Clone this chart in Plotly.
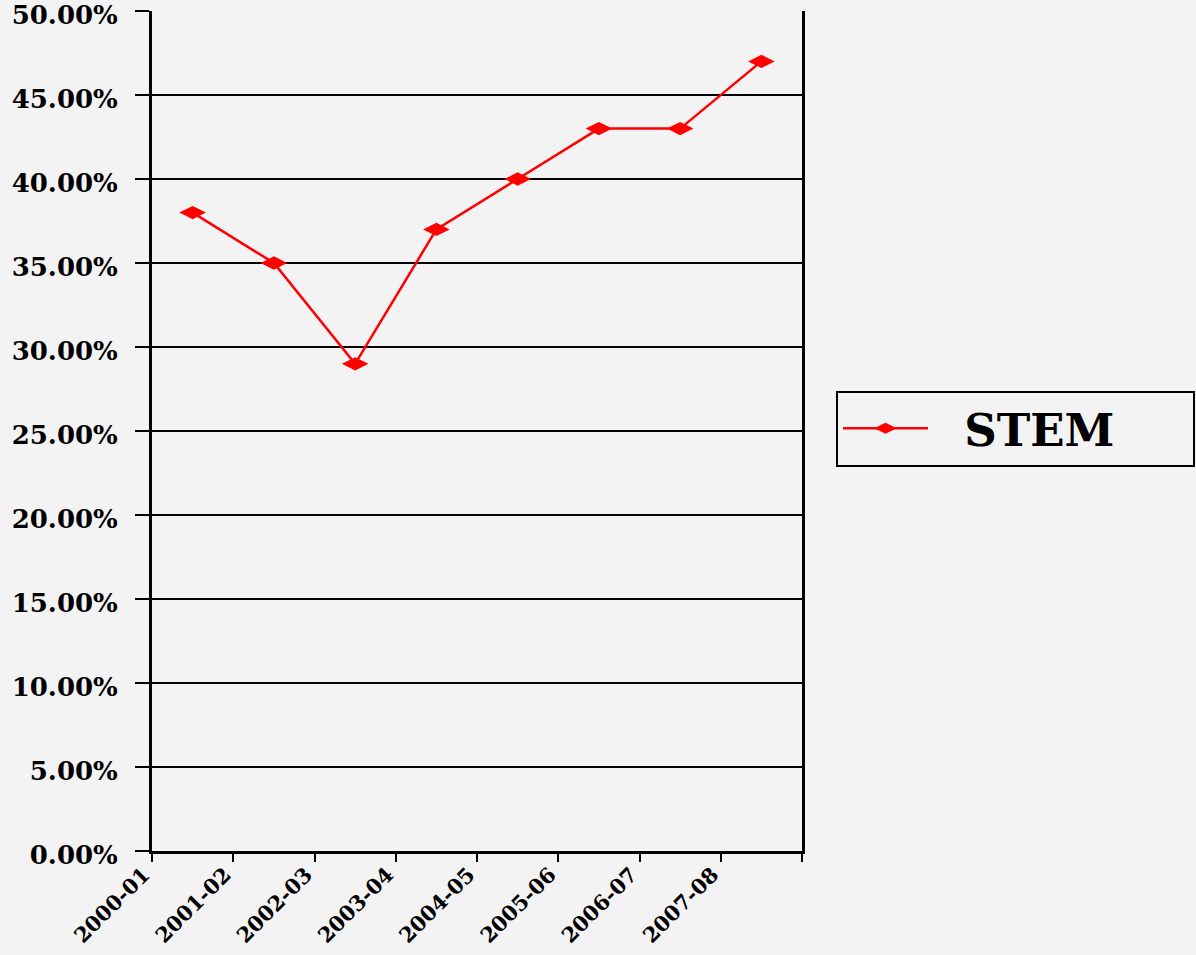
import plotly.graph_objects as go

categories = ["2000-01", "2001-02", "2002-03", "2003-04", "2004-05", "2005-06", "2006-07", "2007-08"]
stem_share = [0.38, 0.35, 0.29, 0.37, 0.40, 0.43, 0.43, 0.47]
series_name = "STEM"
y_ticks = [0.0, 0.05, 0.10, 0.15, 0.20, 0.25, 0.30, 0.35, 0.40, 0.45, 0.50]

FONT = "DejaVu Serif"
BG = "#f3f3f3"

fig = go.Figure()
fig.add_trace(go.Scatter(
    x=categories, y=stem_share, name="\u00a0\u00a0" + series_name, mode="lines+markers",
    line=dict(color="#ff0000", width=2.5),
    marker=dict(symbol="diamond-wide", size=19, color="#ff0000"),
))

fig.update_layout(
    width=1196, height=955,
    margin=dict(l=152, r=394, t=11, b=104, autoexpand=False),
    paper_bgcolor=BG, plot_bgcolor=BG,
    font=dict(family=FONT, color="black"),
    showlegend=True,
    legend=dict(
        x=(836 - 152) / 650, xanchor="left",
        y=(851 - 428.5) / 840, yanchor="middle",
        bgcolor=BG, bordercolor="black", borderwidth=2,
        font=dict(family=FONT, size=45, weight="bold", color="black"),
        itemwidth=85,
        orientation="h", entrywidth=255,
    ),
    xaxis=dict(
        type="category", tickson="boundaries",
        showgrid=False, showline=True, linecolor="black", linewidth=3,
        ticks="outside", ticklen=8, tickwidth=2, tickcolor="black",
        tickangle=-45, ticklabelshift=-49, ticklabeloverflow="allow",
        tickfont=dict(family=FONT, size=21, weight="bold"),
        range=[-0.5, 7.5],
    ),
    yaxis=dict(
        range=[0, 0.5], tickvals=y_ticks, tickformat=".2%",
        showgrid=True, gridcolor="black", gridwidth=2,
        showline=True, linecolor="black", linewidth=3, mirror=True,
        ticks="outside", ticklen=14, tickwidth=2, tickcolor="black",
        ticklabelstandoff=12, ticklabelshift=4, ticklabeloverflow="allow",
        tickfont=dict(family=FONT, size=26, weight="bold"),
        zeroline=False,
    ),
)

fig.write_html("out.html", config={"displayModeBar": False},
               post_script="document.body.style.margin='0';")
